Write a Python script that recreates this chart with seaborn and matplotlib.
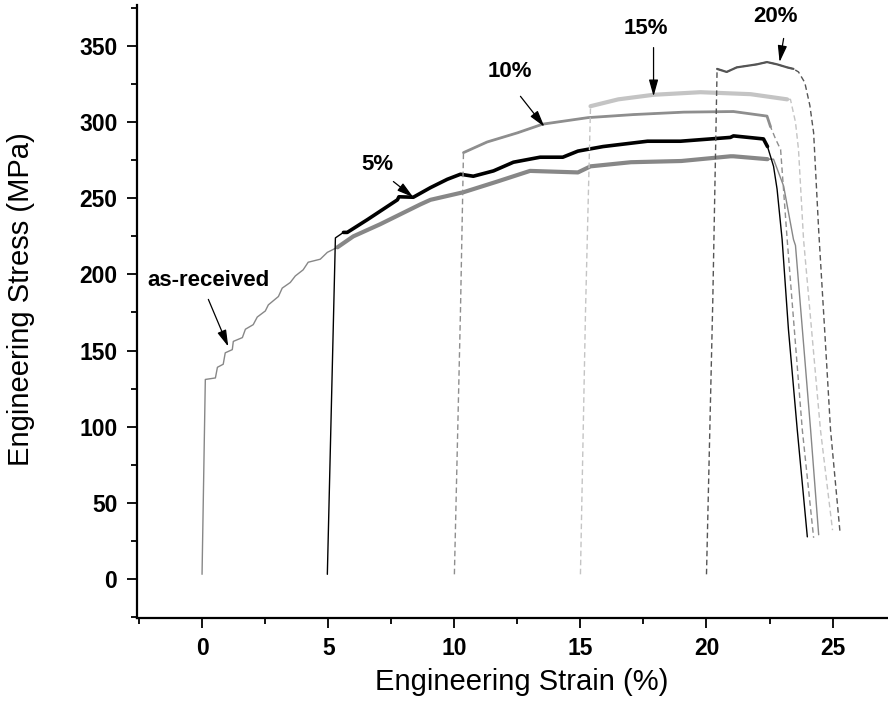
import pandas as pd
import seaborn as sns
import matplotlib.pyplot as plt
from matplotlib.ticker import MultipleLocator

# engineering strain (%) and stress (MPa)
asrec_strain = [-0.01, 0.12, 0.52, 0.6, 0.83, 0.91, 1.19, 1.23, 1.59, 1.71, 2.02, 2.18, 2.5, 2.62,
                3.02, 3.17, 3.49, 3.69, 4.0, 4.2, 4.68, 4.96, 5.36, 5.99, 7.06, 8.65, 9.05, 10.36,
                11.7, 13.0, 14.9, 15.4, 17.0, 19.0, 20.95, 21.07, 22.42, 22.66, 23.06, 23.45,
                23.53, 24.13, 24.45]
asrec_stress = [3, 131, 132, 139, 141, 148.5, 150.6, 156, 158.5, 164, 167, 172, 176, 180,
                185.5, 191, 194.7, 199, 203, 208, 210, 214.5, 217.8, 225, 233, 246, 249, 254,
                261, 268, 267, 271, 273.7, 274.5, 277.6, 277.6, 275.7, 275.7, 258, 223,
                219, 98, 29]

pre5_strain = [4.96, 5.28, 5.6, 5.75, 6.55, 7.74, 7.8, 8.37, 9.05, 9.72, 10.24, 10.75, 11.55,
               12.34, 13.4, 14.3, 14.9, 15.9, 17.66, 18.97, 20.95, 21.07, 22.26, 22.42, 22.66,
               22.8, 23.0, 23.25, 23.6, 24.0]
pre5_stress = [3, 224, 227.6, 227.6, 236, 249, 251, 250.7, 257, 262.5, 265.8, 264.5, 268,
               273.7, 277, 277, 281, 284, 287.5, 287.5, 290, 291, 289, 284, 271,
               256, 223, 164, 98, 27.6]

pre10_strain = [10.0, 10.24, 10.36, 11.3, 12.5, 13.5, 15.3, 17.1, 19.1, 21.07, 22.4, 22.54,
                22.74, 22.94, 23.2, 23.8, 24.25]
pre10_stress = [3, 175, 280, 287, 293, 298.7, 303, 305, 306.6, 307, 304, 297,
                289, 282, 223, 98, 27]

pre15_strain = [15.0, 15.2, 15.4, 16.5, 17.9, 19.76, 21.75, 23.2, 23.33, 23.53, 23.65, 23.85,
                24.52, 25.0]
pre15_stress = [3, 175, 310.5, 315, 318, 319.7, 318.4, 315, 315, 300, 282, 223,
                98, 32]

pre20_strain = [20.0, 20.25, 20.42, 20.8, 21.2, 21.6, 22.0, 22.4, 22.8, 23.2, 23.45, 23.65,
                23.9, 24.1, 24.25, 24.45, 24.7, 24.92, 25.3]
pre20_stress = [3, 183, 335, 333, 336, 337, 338, 339.5, 338, 336, 335, 333,
                326, 311, 293, 229, 160, 98, 30]

labels = ['as-received', '5%', '10%', '15%', '20%']
curves = {
    'as-received': (asrec_strain, asrec_stress),
    '5%': (pre5_strain, pre5_stress),
    '10%': (pre10_strain, pre10_stress),
    '15%': (pre15_strain, pre15_stress),
    '20%': (pre20_strain, pre20_stress),
}

# colour, dash, thin width, serrated band (strain range) and band width
styles = {
    'as-received': dict(color='#878787', ls='-', lw=1.0, band=(5.0, 22.6), blw=3.0),
    '5%': dict(color='black', ls='-', lw=1.0, band=(5.3, 22.5), blw=2.6),
    '10%': dict(color='#8e8e8e', ls=(0, (4, 2.5)), lw=1.0, band=(10.3, 22.6), blw=2.0),
    '15%': dict(color='#c4c4c4', ls=(0, (4, 2.5)), lw=1.0, band=(15.3, 23.3), blw=3.0),
    '20%': dict(color='#555555', ls=(0, (4, 2.5)), lw=1.0, band=(20.4, 23.5), blw=1.6),
}

# label text centre, arrow tail, arrow tip
notes = {
    'as-received': ((0.26, 196), (0.24, 183.6), (1.03, 152.6)),
    '5%': ((6.94, 272), (7.58, 261), (8.37, 250.7)),
    '10%': ((12.2, 333.5), (12.62, 317), (13.57, 297)),
    '15%': ((17.58, 361.5), (17.9, 349), (17.9, 317)),
    '20%': ((22.74, 369.4), (23.06, 355), (22.9, 339.5)),
}

sns.set_style('ticks')
plt.rcParams['font.family'] = ['Liberation Sans', 'DejaVu Sans']
plt.rcParams.update({'text.color': 'black', 'axes.labelcolor': 'black',
                     'xtick.color': 'black', 'ytick.color': 'black',
                     'axes.edgecolor': 'black'})

fig, ax = plt.subplots(figsize=(8.88, 7.10), dpi=100)
fig.subplots_adjust(left=0.154, right=1.0, bottom=0.13, top=0.993)

for name in labels:
    x, y = curves[name]
    st = styles[name]
    df = pd.DataFrame({'strain': x, 'stress': y})
    sns.lineplot(data=df, x='strain', y='stress', sort=False, estimator=None,
                 color=st['color'], linestyle=st['ls'], linewidth=st['lw'], ax=ax)
    lo, hi = st['band']
    band = df[(df['strain'] >= lo) & (df['strain'] <= hi)]
    sns.lineplot(data=band, x='strain', y='stress', sort=False, estimator=None,
                 color=st['color'], linewidth=st['blw'], ax=ax)

for name in labels:
    txt, tail, tip = notes[name]
    ax.text(txt[0], txt[1], name, ha='center', va='center', fontsize=16, fontweight='bold')
    ax.annotate('', xy=tip, xytext=tail,
                arrowprops=dict(arrowstyle='-|>,head_length=1.0,head_width=0.28',
                                color='black', lw=0.9, shrinkA=0, shrinkB=0))

ax.set_xlim(-2.6, 27.2)
ax.set_ylim(-25.5, 377)
ax.xaxis.set_major_locator(MultipleLocator(5))
ax.xaxis.set_minor_locator(MultipleLocator(2.5))
ax.yaxis.set_major_locator(MultipleLocator(50))
ax.yaxis.set_minor_locator(MultipleLocator(25))

sns.despine(ax=ax)
for sp in ['left', 'bottom']:
    ax.spines[sp].set_linewidth(1.6)
ax.tick_params(which='major', direction='out', length=7, width=1.3, labelsize=16.5, pad=7)
ax.tick_params(which='minor', direction='out', length=4.5, width=1.3)
for lab in ax.get_xticklabels() + ax.get_yticklabels():
    lab.set_fontweight('bold')

ax.set_xlabel('Engineering Strain (%)', fontsize=21)
ax.set_ylabel('Engineering Stress (MPa)', fontsize=21)
ax.xaxis.set_label_coords(0.513, -0.082)
ax.yaxis.set_label_coords(-0.135, 0.52)

fig.savefig('out.png', dpi=100)
